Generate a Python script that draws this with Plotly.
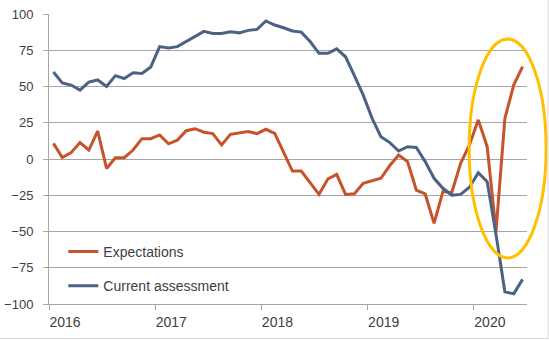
import plotly.graph_objects as go

months = [f"{y}-{m:02d}" for y in range(2016, 2021) for m in range(1, 13)][:54]

expectations = [10.8, 1, 4.4, 11.3, 6.2, 19.3, -6.5, 0.9, 0.9, 6.2, 14, 14,
                16.6, 10.5, 13, 19.5, 20.9, 18.5, 17.5, 9.7, 17, 17.7, 18.9, 17.5,
                20.5, 17.7, 4.5, -8.3, -8.3, -16.3, -24.4, -13.8, -10.6, -24.4, -24, -16.8,
                -15, -13.3, -4.5, 2.8, -1.8, -21.4, -24.1, -44.4, -22.5, -23.2, -3, 9.7,
                27, 8.5, -49.7, 28, 51, 63.7]

current = [60, 52.5, 51, 47.5, 53, 54.5, 50, 57.5, 55.5, 59.5, 59, 63.5,
           77.5, 76.5, 77.5, 81, 84.5, 88, 86.5, 86.5, 87.8, 87, 88.7, 89.4,
           95.2, 92.4, 90.5, 88.3, 87.5, 81, 72.9, 72.9, 76, 70.5, 57.5, 44,
           28, 15.4, 11.3, 5.5, 8.5, 8, -1.8, -13.3, -20.2, -25, -24.4, -19.5,
           -9.5, -15.6, -52, -91.5, -93, -83]

year_labels = ["2016", "2017", "2018", "2019", "2020"]
y_ticks = [-100, -75, -50, -25, 0, 25, 50, 75, 100]

idx = list(range(len(months)))
year_tick_pos = [12 * i - 0.5 for i in range(len(year_labels))]

ORANGE = "#C8532A"
BLUE = "#4C6285"
GRID = "#A6A6A6"
TEXT = "#404040"
FONT = "Liberation Sans"

fig = go.Figure()
fig.add_trace(go.Scatter(x=idx, y=expectations, mode="lines", name="Expectations",
                         line=dict(color=ORANGE, width=3), legendgroup="a",
                         customdata=months, hovertemplate="%{customdata}: %{y}<extra></extra>"))
fig.add_trace(go.Scatter(x=idx, y=current, mode="lines", name="Current assessment",
                         line=dict(color=BLUE, width=3), legendgroup="b",
                         customdata=months, hovertemplate="%{customdata}: %{y}<extra></extra>"))

fig.update_layout(
    width=549, height=340,
    margin=dict(l=49, r=22, t=14, b=36),
    paper_bgcolor="white", plot_bgcolor="white",
    font=dict(family=FONT, color=TEXT, size=13),
    showlegend=True,
    legend=dict(x=0.030, xanchor="left", y=0.235, yanchor="top",
                font=dict(size=14, color=TEXT), tracegroupgap=13,
                bgcolor="rgba(0,0,0,0)", borderwidth=0),
    xaxis=dict(range=[-0.5, 53.5], tickmode="array", tickvals=year_tick_pos,
               ticktext=year_labels, ticks="outside", ticklen=5, tickcolor=GRID,
               showline=True, linecolor=GRID, linewidth=1, showgrid=False,
               zeroline=False, ticklabelshift=16, automargin=False,
               tickfont=dict(size=14, color=TEXT)),
    yaxis=dict(range=[-100, 100], tickmode="array", tickvals=y_ticks,
               ticks="outside", ticklen=5, tickcolor=GRID,
               showline=True, linecolor=GRID, linewidth=1,
               showgrid=True, gridcolor=GRID, gridwidth=1, zeroline=False,
               automargin=False,
               tickfont=dict(size=13, color=TEXT), ticklabelstandoff=7),
    shapes=[
        dict(type="circle", xref="paper", yref="paper",
             x0=0.879, x1=1.040, y0=0.159, y1=0.914,
             line=dict(color="#FFC000", width=3), layer="above"),
        dict(type="line", xref="paper", yref="paper",
             x0=(548 - 49) / 478, x1=(548 - 49) / 478, y0=(304 - 339) / 290, y1=1.05,
             line=dict(color="#D9D9D9", width=1)),
        dict(type="line", xref="paper", yref="paper",
             x0=-49 / 478, x1=(548 - 49) / 478, y0=(304 - 338.5) / 290, y1=(304 - 338.5) / 290,
             line=dict(color="#D9D9D9", width=1)),
    ],
)

fig.write_html("out.html")
